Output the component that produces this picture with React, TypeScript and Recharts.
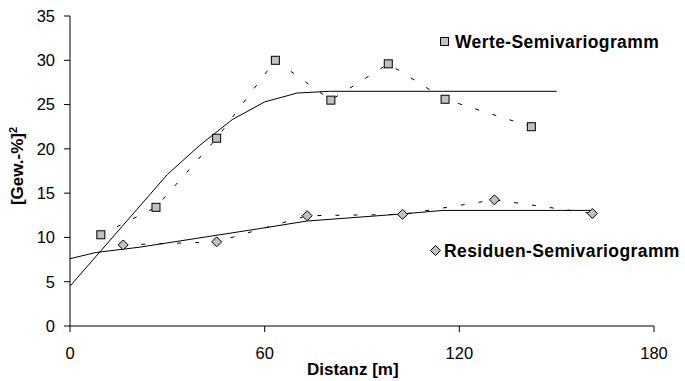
import React from 'react';
import { ComposedChart, Line, XAxis, YAxis } from 'recharts';

// experimental semivariogram points (Distanz [m], [Gew.-%]^2)
const werteDist = [9.5, 26.5, 45.2, 63.3, 80.4, 98.1, 115.6, 142.2];
const werteGamma = [10.3, 13.4, 21.2, 30.0, 25.5, 29.6, 25.6, 22.5];
const resDist = [16.4, 45.2, 73.1, 102.5, 130.8, 161];
const resGamma = [9.15, 9.5, 12.45, 12.6, 14.25, 12.7];

// fitted models
const werteModelDist = [0, 30, 40, 50, 60, 70, 80, 150];
const werteModelGamma = [4.5, 17.1, 20.4, 23.3, 25.3, 26.3, 26.5, 26.5];
const resModelDist = [0, 8, 21.5, 58.5, 73, 102.3, 115, 161];
const resModelGamma = [7.6, 8.3, 8.9, 11.0, 11.85, 12.65, 13.05, 13.05];

const xTicks = [0, 60, 120, 180];
const yTicks = [0, 5, 10, 15, 20, 25, 30, 35];

const zip = (xs: number[], ys: number[]) => xs.map((x, i) => ({ x, y: ys[i] }));

const werte = zip(werteDist, werteGamma);
const residuen = zip(resDist, resGamma);
const werteModel = zip(werteModelDist, werteModelGamma);
const resModel = zip(resModelDist, resModelGamma);

const FONT = '"Liberation Sans", Arial, sans-serif';
const MARKER_FILL = '#c0c0c0';

const SquareDot = (props: any) => {
  const { cx, cy } = props;
  if (cx == null || cy == null) return null;
  return <rect x={cx - 4} y={cy - 4} width={8} height={8} fill={MARKER_FILL} stroke="#000" strokeWidth={1} />;
};

const DiamondDot = (props: any) => {
  const { cx, cy } = props;
  if (cx == null || cy == null) return null;
  return (
    <path
      d={`M${cx},${cy - 5} L${cx + 5},${cy} L${cx},${cy + 5} L${cx - 5},${cy} Z`}
      fill={MARKER_FILL}
      stroke="#000"
      strokeWidth={1}
    />
  );
};

const boldText: React.CSSProperties = {
  position: 'absolute',
  fontFamily: FONT,
  fontWeight: 'bold',
  fontSize: 17,
  color: '#000',
  whiteSpace: 'nowrap',
  lineHeight: '20px',
};

const legendText: React.CSSProperties = { ...boldText, fontSize: 17.5, letterSpacing: 0.4 };

export default function App() {
  return (
    <div style={{ position: 'absolute', left: 0, top: 0, width: 685, height: 381, background: '#fff' }}>
      <ComposedChart
        width={685}
        height={381}
        margin={{ top: 16, right: 31, bottom: 0, left: 10 }}
        style={{ fontFamily: FONT }}
      >
        <XAxis
          type="number"
          dataKey="x"
          domain={[0, 180]}
          ticks={xTicks}
          height={55}
          stroke="#000"
          tickSize={6}
          tickMargin={15}
          tick={{ fill: '#000', fontSize: 16.5 }}
        />
        <YAxis
          type="number"
          dataKey="y"
          domain={[0, 35]}
          ticks={yTicks}
          width={60}
          stroke="#000"
          tickSize={6}
          tickMargin={9}
          tick={{ fill: '#000', fontSize: 16.5 }}
        />
        <Line
          data={werteModel}
          dataKey="y"
          stroke="#000"
          strokeWidth={1}
          dot={false}
          activeDot={false}
          isAnimationActive={false}
        />
        <Line
          data={resModel}
          dataKey="y"
          stroke="#000"
          strokeWidth={1}
          dot={false}
          activeDot={false}
          isAnimationActive={false}
        />
        <Line
          data={werte}
          dataKey="y"
          stroke="#000"
          strokeWidth={1}
          strokeDasharray="4 14"
          dot={<SquareDot />}
          activeDot={false}
          isAnimationActive={false}
        />
        <Line
          data={residuen}
          dataKey="y"
          stroke="#000"
          strokeWidth={1}
          strokeDasharray="4 14"
          dot={<DiamondDot />}
          activeDot={false}
          isAnimationActive={false}
        />
      </ComposedChart>

      {/* in-plot legend labels */}
      <svg style={{ position: 'absolute', left: 440, top: 37 }} width={9} height={9}>
        <rect x={0.5} y={0.5} width={8} height={8} fill={MARKER_FILL} stroke="#000" />
      </svg>
      <div style={{ ...legendText, left: 455, top: 32 }}>Werte-Semivariogramm</div>

      <svg style={{ position: 'absolute', left: 430, top: 245 }} width={11} height={11}>
        <path d="M5.5,0.5 L10.5,5.5 L5.5,10.5 L0.5,5.5 Z" fill={MARKER_FILL} stroke="#000" />
      </svg>
      <div style={{ ...legendText, left: 444, top: 241 }}>Residuen-Semivariogramm</div>

      {/* axis titles */}
      <div style={{ ...boldText, left: 307, top: 360 }}>Distanz [m]</div>
      <div
        style={{
          ...boldText,
          left: 18,
          top: 166,
          transform: 'translate(-50%, -50%) rotate(-90deg)',
        }}
      >
        [Gew.-%]<sup style={{ fontSize: 11, verticalAlign: 'top', lineHeight: '10px' }}>2</sup>
      </div>
    </div>
  );
}
